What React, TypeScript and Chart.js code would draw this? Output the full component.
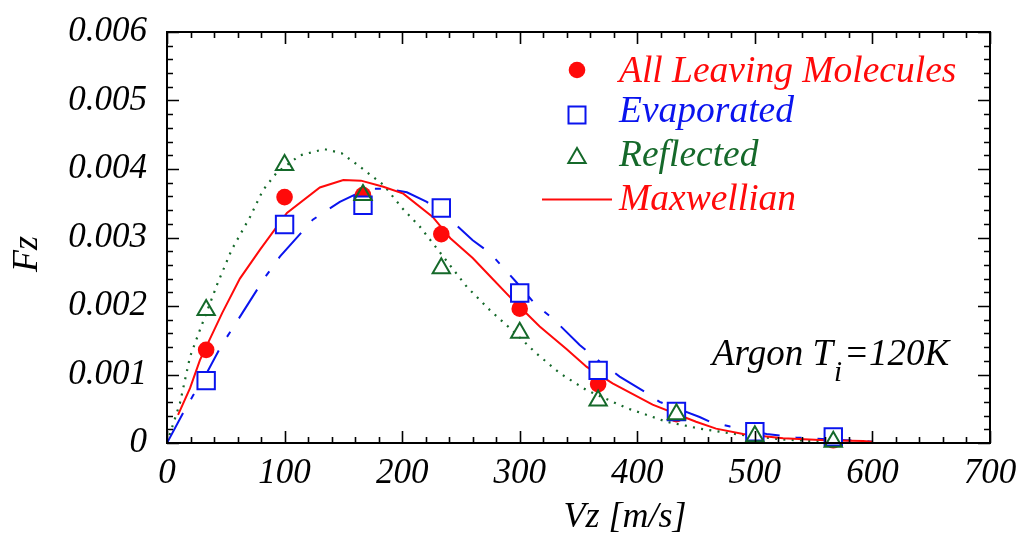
import React, { useEffect, useRef } from 'react';
import { Chart, registerables } from 'chart.js';

Chart.register(...registerables);

const FONT = '"Liberation Serif", "Times New Roman", serif';
const RED = '#ff0a0a';
const BLUE = '#0a14ee';
const GREEN = '#15692a';

// Simulation points
const markerX = [33.3, 100, 166.7, 233.3, 300, 366.7, 433.3, 500, 566.7];
const allLeaving = [0.00136, 0.00359, 0.00362, 0.00305, 0.00196, 0.00086, 0.00042, 0.00012, 0.00004];
const evaporated = [0.00091, 0.00319, 0.00347, 0.00343, 0.00219, 0.00106, 0.00046, 0.000165, 0.00009];
const reflected = [0.00194, 0.00406, 0.00362, 0.00255, 0.00161, 0.00062, 0.00042, 0.0001, 0.00002];

// Maxwellian curve (solid red)
const maxX = [9.4, 19.6, 28, 47, 62, 79, 102, 130, 150, 165, 184, 201, 226, 241, 260, 275, 294, 317, 340, 357, 379, 413, 450, 467, 490, 524, 560, 592, 600];
const maxY = [0.00041, 0.0008, 0.00121, 0.0019, 0.0024, 0.00282, 0.00336, 0.00373, 0.00384, 0.00383, 0.00374, 0.00364, 0.0033, 0.00299, 0.0027, 0.00243, 0.00209, 0.0017, 0.00137, 0.00111, 0.00087, 0.00056, 0.00031, 0.00021, 0.00013, 0.00007, 0.00004, 0.00003, 0.00002];

// Evaporated curve (blue dash-dot)
const evX = [0, 15, 22.4, 33.7, 46.5, 56, 83, 96, 124, 147, 170, 187, 204, 221, 241, 260, 275, 297, 314, 328, 351, 368, 385, 408, 419, 453, 462, 479, 510, 535, 565, 592, 600];
const evY = [0, 0.00048, 0.0007, 0.00102, 0.00143, 0.00168, 0.00241, 0.00272, 0.00326, 0.00352, 0.00371, 0.00371, 0.00366, 0.00352, 0.00326, 0.00296, 0.00277, 0.00235, 0.00201, 0.00182, 0.00143, 0.00119, 0.00097, 0.00073, 0.0006, 0.00038, 0.00031, 0.00024, 0.00013, 0.00008, 0.00005, 0.00003, 0.00002];

// Reflected curve (green dotted)
const reX = [0, 11, 19.6, 28, 43, 55, 70.6, 81.6, 93, 113, 134, 148.6, 162, 184, 200, 215, 235, 255, 274.6, 294, 314, 334, 357, 391, 425, 453, 484, 524, 560];
const reY = [0, 0.00058, 0.00126, 0.00165, 0.00233, 0.00282, 0.0033, 0.00369, 0.00394, 0.0042, 0.00429, 0.00423, 0.00406, 0.00377, 0.00343, 0.00316, 0.00272, 0.00228, 0.00194, 0.00164, 0.00131, 0.00102, 0.00077, 0.00051, 0.00031, 0.00021, 0.00013, 0.00005, 0.00002];

const xTicks = [0, 100, 200, 300, 400, 500, 600, 700];
const yTickLabels = ['0', '0.001', '0.002', '0.003', '0.004', '0.005', '0.006'];

const legendItems = ['All Leaving Molecules', 'Evaporated', 'Reflected', 'Maxwellian'];
const axisTitleX = 'Vz [m/s]';
const axisTitleY = 'Fz';

const pts = (xs: number[], ys: number[]) => xs.map((x, i) => ({ x, y: ys[i] }));

const framePlugin = {
  id: 'frameAndExtras',
  afterDraw(chart: any) {
    const { ctx, chartArea } = chart;
    const { left, right, top, bottom } = chartArea;
    const xs = chart.scales.x;
    const ys = chart.scales.y;
    ctx.save();
    ctx.strokeStyle = '#000';
    ctx.lineWidth = 2;
    ctx.strokeRect(left, top, right - left, bottom - top);
    ctx.lineWidth = 1.6;
    ctx.beginPath();
    for (let v = 0; v <= 700.001; v += 20) {
      const px = Math.round(xs.getPixelForValue(v)) + 0.5;
      const major = Math.abs(v / 100 - Math.round(v / 100)) < 1e-6;
      const len = major ? 12 : 6;
      ctx.moveTo(px, bottom);
      ctx.lineTo(px, bottom - len);
      ctx.moveTo(px, top);
      ctx.lineTo(px, top + len);
    }
    for (let k = 0; k <= 30; k++) {
      const v = k * 0.0002;
      const py = Math.round(ys.getPixelForValue(v)) + 0.5;
      const len = k % 5 === 0 ? 12 : 6;
      ctx.moveTo(left, py);
      ctx.lineTo(left + len, py);
      ctx.moveTo(right, py);
      ctx.lineTo(right - len, py);
    }
    ctx.stroke();

    // Axis titles
    ctx.fillStyle = '#000';
    ctx.font = `italic 36px ${FONT}`;
    ctx.textAlign = 'center';
    ctx.textBaseline = 'alphabetic';
    ctx.fillText(axisTitleX, 625, 527);
    ctx.save();
    ctx.translate(37, 254);
    ctx.rotate(-Math.PI / 2);
    ctx.fillText(axisTitleY, 0, 0);
    ctx.restore();

    // Legend
    const mx = 577;
    const rows = [70, 115, 158, 199.5];
    const baselines = [82, 122, 166, 210];
    const colors = [RED, BLUE, GREEN, RED];
    ctx.fillStyle = RED;
    ctx.beginPath();
    ctx.arc(mx, rows[0], 8.3, 0, Math.PI * 2);
    ctx.fill();
    ctx.strokeStyle = BLUE;
    ctx.lineWidth = 2;
    ctx.fillStyle = '#fff';
    ctx.fillRect(mx - 8.5, rows[1] - 8.5, 17, 17);
    ctx.strokeRect(mx - 8.5, rows[1] - 8.5, 17, 17);
    ctx.strokeStyle = GREEN;
    ctx.beginPath();
    const r = 10;
    for (let i = 0; i < 3; i++) {
      const a = -Math.PI / 2 + (i * 2 * Math.PI) / 3;
      const px = mx + r * Math.cos(a);
      const py = rows[2] + r * Math.sin(a);
      if (i === 0) ctx.moveTo(px, py);
      else ctx.lineTo(px, py);
    }
    ctx.closePath();
    ctx.stroke();
    ctx.strokeStyle = RED;
    ctx.beginPath();
    ctx.moveTo(542, rows[3]);
    ctx.lineTo(612, rows[3]);
    ctx.stroke();
    ctx.textAlign = 'left';
    ctx.font = `italic 37.5px ${FONT}`;
    legendItems.forEach((t, i) => {
      ctx.fillStyle = colors[i];
      ctx.fillText(t, 619, baselines[i]);
    });

    // Annotation
    ctx.fillStyle = '#000';
    let ax = 712;
    ctx.font = `italic 37px ${FONT}`;
    const p1 = 'Argon T';
    ctx.fillText(p1, ax, 365);
    ax += ctx.measureText(p1).width + 1;
    ctx.font = `italic 29px ${FONT}`;
    ctx.fillText('i', ax, 381);
    ax += ctx.measureText('i').width + 2;
    ctx.font = `italic 37px ${FONT}`;
    ctx.fillText('=120K', ax, 365);
    ctx.restore();
  },
};

export default function App() {
  const ref = useRef<HTMLCanvasElement>(null);
  useEffect(() => {
    const canvas = ref.current;
    if (!canvas) return;
    const tickFont = { family: FONT, size: 35, style: 'italic' as const };
    const chart = new Chart(canvas, {
      type: 'scatter',
      data: {
        datasets: [
          {
            label: 'Reflected',
            data: pts(markerX, reflected),
            pointStyle: 'triangle',
            pointRadius: 10,
            borderColor: GREEN,
            backgroundColor: 'rgba(0,0,0,0)',
            pointBorderWidth: 2,
            showLine: false,
            clip: false,
            order: 1,
          },
          {
            label: 'Evaporated',
            data: pts(markerX, evaporated),
            pointStyle: 'rect',
            pointRadius: 12.3,
            borderColor: BLUE,
            backgroundColor: '#ffffff',
            pointBorderWidth: 2,
            showLine: false,
            clip: false,
            order: 2,
          },
          {
            label: 'All Leaving Molecules',
            data: pts(markerX, allLeaving),
            pointStyle: 'circle',
            pointRadius: 8.3,
            borderColor: RED,
            backgroundColor: RED,
            pointBorderWidth: 0,
            showLine: false,
            clip: false,
            order: 3,
          },
          {
            label: 'Maxwellian',
            data: pts(maxX, maxY),
            showLine: true,
            borderColor: RED,
            borderWidth: 2,
            pointRadius: 0,
            order: 10,
          },
          {
            label: 'Evaporated curve',
            data: pts(evX, evY),
            showLine: true,
            borderColor: BLUE,
            borderWidth: 2,
            borderDash: [34, 16, 6, 16],
            pointRadius: 0,
            order: 11,
          },
          {
            label: 'Reflected curve',
            data: pts(reX, reY),
            showLine: true,
            borderColor: GREEN,
            borderWidth: 2.2,
            borderDash: [2, 6.3],
            pointRadius: 0,
            order: 12,
          },
        ],
      },
      options: {
        responsive: false,
        animation: false,
        devicePixelRatio: 1,
        layout: { padding: { left: 0, right: 30, top: 32, bottom: 0 } },
        plugins: { legend: { display: false }, tooltip: { enabled: false } },
        scales: {
          x: {
            type: 'linear',
            min: 0,
            max: 700,
            afterBuildTicks: (s: any) => {
              s.ticks = xTicks.map((v) => ({ value: v }));
            },
            ticks: {
              autoSkip: false,
              maxRotation: 0,
              font: tickFont,
              color: '#000',
              padding: 10,
              callback: (v: any) => String(v),
            },
            grid: { display: false, drawTicks: false },
            border: { display: false },
            afterFit: (s: any) => {
              s.height = 97;
              s.paddingLeft = 0;
              s.paddingRight = 0;
            },
          },
          y: {
            type: 'linear',
            min: 0,
            max: 0.006,
            afterBuildTicks: (s: any) => {
              s.ticks = yTickLabels.map((_, i) => ({ value: i * 0.001 }));
            },
            ticks: {
              autoSkip: false,
              font: tickFont,
              color: '#000',
              padding: 20,
              callback: (_v: any, i: number) => yTickLabels[i],
            },
            grid: { display: false, drawTicks: false },
            border: { display: false },
            afterFit: (s: any) => {
              s.width = 167;
              s.paddingTop = 0;
              s.paddingBottom = 0;
            },
          },
        },
      },
      plugins: [framePlugin],
    });
    return () => chart.destroy();
  }, []);
  return (
    <div style={{ position: 'absolute', left: 0, top: 0, width: 1020, height: 540, background: '#fff' }}>
      <canvas ref={ref} width={1020} height={540} style={{ display: 'block', width: 1020, height: 540 }} />
    </div>
  );
}
